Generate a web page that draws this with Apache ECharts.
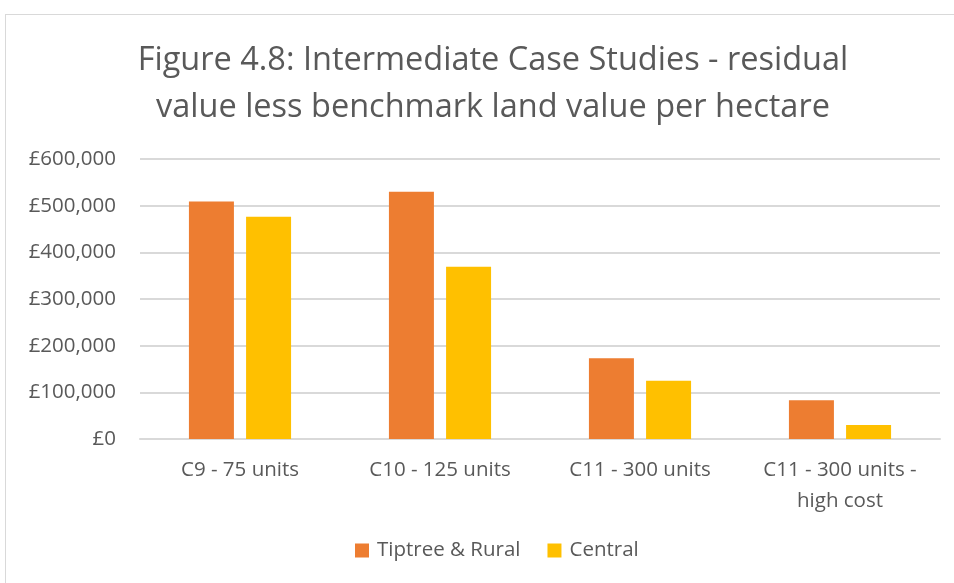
<!DOCTYPE html>
<html>
<head>
<meta charset="utf-8">
<script src="https://cdn.jsdelivr.net/npm/echarts@6/dist/echarts.min.js"></script>
<style>
  html, body { margin: 0; padding: 0; background: #fff; overflow: hidden; }
  .frame {
    position: absolute; left: 5px; top: 14px;
    width: 980px; height: 620px;
    border: 1px solid #d9d9d9; box-sizing: border-box;
  }
  #chart { position: absolute; left: 0; top: 0; width: 954px; height: 583px; }
</style>
</head>
<body>
<div class="frame"></div>
<div id="chart"></div>
<script>
const categories = ['C9 - 75 units', 'C10 - 125 units', 'C11 - 300 units', 'C11 - 300 units -\nhigh cost']
const tiptreeRural = [509000, 530000, 173000, 83000]
const central = [476000, 369000, 125000, 30000]
const seriesNames = ['Tiptree & Rural', 'Central']

const textColor = '#595959'
const fontFamily = "'Open Sans', 'Noto Sans', sans-serif"

const fmtMoney = (v) => '£' + v.toLocaleString('en-GB')

const chart = echarts.init(document.getElementById('chart'), null, { renderer: 'canvas' })
chart.setOption({
  animation: false,
  title: {
    text: 'Figure 4.8: Intermediate Case Studies - residual\nvalue less benchmark land value per hectare',
    left: 488, top: 32, textAlign: 'center',
    textStyle: { color: textColor, fontSize: 32.5, fontWeight: 'normal', fontFamily, lineHeight: 47 }
  },
  legend: {
    data: seriesNames,
    bottom: 17, left: 350,
    itemWidth: 14, itemHeight: 14, itemGap: 27,
    icon: 'rect',
    textStyle: { color: textColor, fontSize: 20.5, fontFamily, padding: [0, 0, 0, 3] }
  },
  grid: { left: 140, right: 14, top: 159, bottom: 144, containLabel: false },
  xAxis: {
    type: 'category',
    data: categories,
    axisLine: { lineStyle: { color: '#d9d9d9', width: 2 } },
    axisTick: { show: false },
    axisLabel: { color: textColor, fontSize: 20.5, fontFamily, margin: 16, lineHeight: 31, interval: 0 }
  },
  yAxis: {
    type: 'value',
    min: 0, max: 600000, interval: 100000,
    axisLine: { show: false },
    axisTick: { show: false },
    splitLine: { lineStyle: { color: '#d9d9d9', width: 2 } },
    axisLabel: { color: textColor, fontSize: 20.5, fontFamily, margin: 24, formatter: fmtMoney }
  },
  series: [
    {
      name: seriesNames[0], type: 'bar', data: tiptreeRural,
      barWidth: 45, barGap: '27%',
      itemStyle: { color: '#ed7d31' }
    },
    {
      name: seriesNames[1], type: 'bar', data: central,
      barWidth: 45,
      itemStyle: { color: '#ffc000' }
    }
  ]
})
</script>
</body>
</html>
